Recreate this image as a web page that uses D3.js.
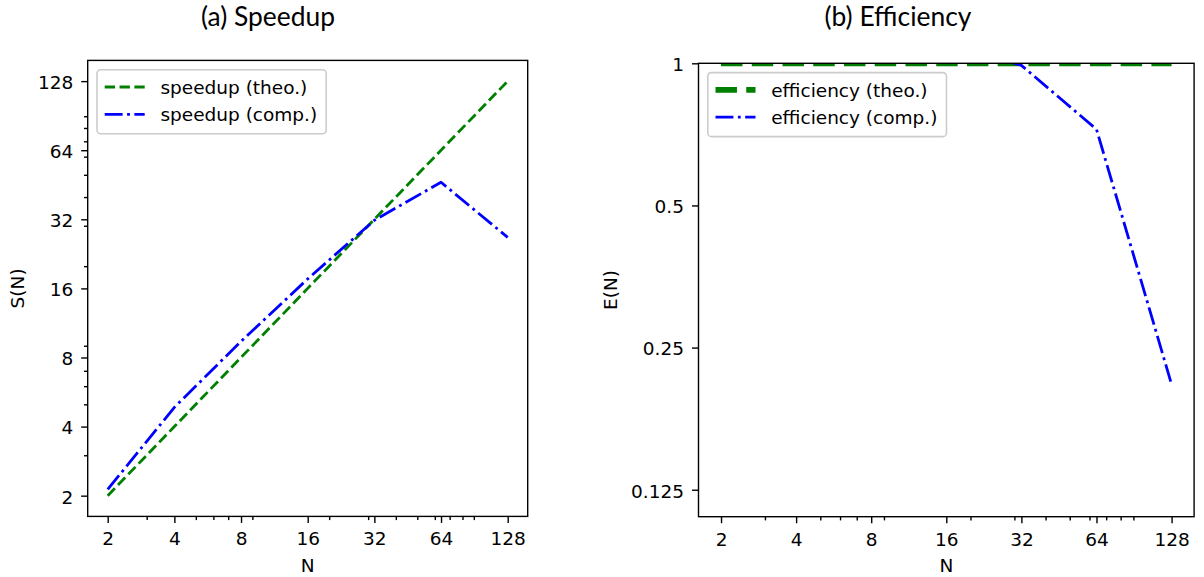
<!DOCTYPE html>
<html>
<head>
<meta charset="utf-8">
<script src="https://cdn.jsdelivr.net/npm/d3@7"></script>
<style>
  html, body { margin: 0; padding: 0; background: #ffffff; }
  svg { display: block; }
</style>
</head>
<body>
<svg id="chart" width="1204" height="577"></svg>
<script>
// ---------------- data ----------------
const N = [2, 4, 8, 16, 32, 64, 128];
const speedupTheo = [2, 4, 8, 16, 32, 64, 128];
const speedupComp = [2.13, 4.85, 9.4, 17.6, 31.7, 46.4, 26.7];
const efficiencyTheo = [1, 1, 1, 1, 1, 1, 1];
const efficiencyComp = [1.065, 1.21, 1.175, 1.10, 0.99, 0.725, 0.209];

const xTicks = [2, 4, 8, 16, 32, 64, 128];
const xTickLabels = ["2", "4", "8", "16", "32", "64", "128"];
const speedupTicks = [2, 4, 8, 16, 32, 64, 128];
const speedupTickLabels = ["2", "4", "8", "16", "32", "64", "128"];
const efficiencyTicks = [0.125, 0.25, 0.5, 1];
const efficiencyTickLabels = ["0.125", "0.25", "0.5", "1"];
const minorTicks = [3, 5, 6, 7, 9, 20, 30, 40, 50, 60, 70, 80, 90];
const efficiencyLimits = [0.1096, 1];

const titles = ["(a) Speedup", "(b) Efficiency"];
const yLabels = ["S(N)", "E(N)"];
const xLabel = "N";
const speedupLegend = ["speedup (theo.)", "speedup (comp.)"];
const efficiencyLegend = ["efficiency (theo.)", "efficiency (comp.)"];

// ---------------- layout / style ----------------
const FONT = "'DejaVu Sans', sans-serif";
const FS = 18.5;
const GREEN = "#008000", BLUE = "#0000ff";
const LW = 2.8, LW_THICK = 5.8;
const dashed = lw => [3.7 * lw, 1.6 * lw].join(" ");
const dashdot = lw => [6.4 * lw, 1.6 * lw, 1 * lw, 1.6 * lw].join(" ");

const svg = d3.select("#chart");

// matplotlib-like 5% log margin
function logPadDomain(values) {
  const lo = Math.log2(d3.min(values)), hi = Math.log2(d3.max(values));
  const pad = (hi - lo) * 0.05;
  return [Math.pow(2, lo - pad), Math.pow(2, hi + pad)];
}

const panels = [
  {
    box: { x0: 87.7, x1: 527.7, y0: 60.4, y1: 516.4 },
    titleX: 268,
    yLabelX: 18.5,
    yDomain: logPadDomain(speedupTheo.concat(speedupComp)),
    yTicks: speedupTicks, yTickLabels: speedupTickLabels, yMinor: true,
    series: [
      { values: speedupTheo, color: GREEN, lw: LW, dash: dashed(LW), label: speedupLegend[0] },
      { values: speedupComp, color: BLUE, lw: LW, dash: dashdot(LW), label: speedupLegend[1] }
    ],
    title: titles[0], yLabel: yLabels[0]
  },
  {
    box: { x0: 698.5, x1: 1194.1, y0: 63.3, y1: 516.7 },
    titleX: 898,
    yLabelX: 611.7,
    yDomain: efficiencyLimits,
    yTicks: efficiencyTicks, yTickLabels: efficiencyTickLabels, yMinor: false,
    series: [
      { values: efficiencyTheo, color: GREEN, lw: LW_THICK, dash: dashed(LW_THICK), label: efficiencyLegend[0] },
      { values: efficiencyComp, color: BLUE, lw: LW, dash: dashdot(LW), label: efficiencyLegend[1] }
    ],
    title: titles[1], yLabel: yLabels[1]
  }
];

const xDomain = logPadDomain(N);

// title font: fit to measured width
const titleFont = "Lato, 'Open Sans', sans-serif";

panels.forEach((p, pi) => {
  const b = p.box;
  const x = d3.scaleLog().base(2).domain(xDomain).range([b.x0, b.x1]);
  const y = d3.scaleLog().base(2).domain(p.yDomain).range([b.y1, b.y0]);
  const g = svg.append("g");

  const clipId = "clip" + pi;
  svg.append("defs").append("clipPath").attr("id", clipId)
    .append("rect").attr("x", b.x0).attr("y", b.y0)
    .attr("width", b.x1 - b.x0).attr("height", b.y1 - b.y0);

  // lines
  const line = d3.line().x((d, i) => x(N[i])).y(d => y(d));
  const lg = g.append("g").attr("clip-path", `url(#${clipId})`);
  p.series.forEach(s => {
    lg.append("path").datum(s.values)
      .attr("d", line)
      .attr("fill", "none")
      .attr("stroke", s.color)
      .attr("stroke-width", s.lw)
      .attr("stroke-dasharray", s.dash)
      .attr("stroke-linecap", "butt")
      .attr("stroke-linejoin", "round");
  });

  // x axis major
  const xAxis = d3.axisBottom(x).tickValues(xTicks)
    .tickFormat((d, i) => xTickLabels[i]).tickSize(6.5).tickPadding(9.4);
  const gx = g.append("g").attr("transform", `translate(0,${b.y1})`).call(xAxis);
  // x axis minor
  const gxm = g.append("g").attr("transform", `translate(0,${b.y1})`)
    .call(d3.axisBottom(x).tickValues(minorTicks.filter(v => x(v) >= b.x0 && x(v) <= b.x1))
      .tickFormat("").tickSize(3.7));

  // y axis major
  const yAxis = d3.axisLeft(y).tickValues(p.yTicks)
    .tickFormat((d, i) => p.yTickLabels[i]).tickSize(6.5).tickPadding(8);
  const gy = g.append("g").attr("transform", `translate(${b.x0},0)`).call(yAxis);
  let gym = null;
  if (p.yMinor) {
    gym = g.append("g").attr("transform", `translate(${b.x0},0)`)
      .call(d3.axisLeft(y).tickValues(minorTicks.filter(v => y(v) >= b.y0 && y(v) <= b.y1))
        .tickFormat("").tickSize(3.7));
  }
  [gx, gxm, gy, gym].forEach(a => {
    if (!a) return;
    a.select(".domain").remove();
    a.selectAll("line").attr("stroke", "#000").attr("stroke-width", 1.4);
    a.selectAll("text").attr("font-family", FONT).attr("font-size", FS).attr("fill", "#000");
  });
  gy.selectAll("text").attr("dy", "0.4em");

  // spines
  g.append("rect").attr("x", b.x0).attr("y", b.y0)
    .attr("width", b.x1 - b.x0).attr("height", b.y1 - b.y0)
    .attr("fill", "none").attr("stroke", "#000").attr("stroke-width", 1.4);

  // axis labels
  g.append("text").attr("x", (b.x0 + b.x1) / 2).attr("y", 572)
    .attr("text-anchor", "middle").attr("font-family", FONT).attr("font-size", FS)
    .text(xLabel);
  g.append("text")
    .attr("transform", `translate(${p.yLabelX},${(b.y0 + b.y1) / 2}) rotate(-90)`)
    .attr("text-anchor", "middle").attr("dy", "0.31em")
    .attr("font-family", FONT).attr("font-size", FS)
    .text(p.yLabel);

  // title
  const t = svg.append("text").attr("x", p.titleX).attr("y", 26)
    .attr("text-anchor", "middle").attr("font-family", titleFont)
    .attr("font-size", 24).attr("fill", "#000").text(p.title);
  const target = pi === 0 ? 134 : 147;
  const w = t.node().getComputedTextLength();
  if (w > 0) t.attr("font-size", 24 * target / w);

  // legend
  const lgx = b.x0 + 9.3, lgy = b.y0 + 9.3;
  const leg = g.append("g");
  const frame = leg.append("rect").attr("x", lgx).attr("y", lgy)
    .attr("height", 64).attr("rx", 3.7).attr("ry", 3.7)
    .attr("fill", "#ffffff").attr("fill-opacity", 0.8)
    .attr("stroke", "#cccccc").attr("stroke-width", 1.6);
  let maxW = 0;
  p.series.forEach((s, i) => {
    const ry = lgy + 17.3 + i * 27.3;
    leg.append("line").attr("x1", lgx + 7.7).attr("x2", lgx + 47.7)
      .attr("y1", ry).attr("y2", ry)
      .attr("stroke", s.color).attr("stroke-width", s.lw)
      .attr("stroke-dasharray", s.dash).attr("stroke-linecap", "butt");
    const tx = leg.append("text").attr("x", lgx + 63.4).attr("y", ry).attr("dy", "0.36em")
      .attr("font-family", FONT).attr("font-size", FS).text(s.label);
    maxW = Math.max(maxW, tx.node().getComputedTextLength());
  });
  frame.attr("width", 63.4 + maxW + 9);
});
</script>
</body>
</html>
